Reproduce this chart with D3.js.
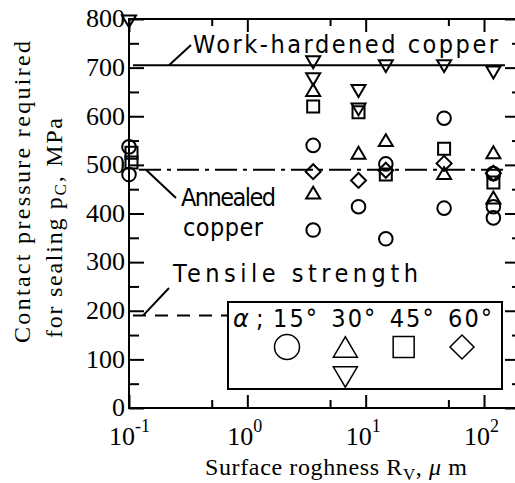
<!DOCTYPE html>
<html>
<head>
<meta charset="utf-8">
<script src="https://cdn.jsdelivr.net/npm/d3@7"></script>
<style>
  body { margin: 0; background: #fff; }
</style>
</head>
<body>
<div id="chart"></div>
<script>
/* DATA (roughness R_V in um, contact pressure in MPa) */
const circles15 = [[0.1, 537], [0.1, 480], [3.6, 540], [3.6, 366], [8.7, 414], [14.8, 502],
  [14.8, 348], [46, 596], [46, 411], [120, 482], [120, 414], [120, 391]];
const trianglesUp30 = [[3.6, 654], [3.6, 443], [8.7, 525], [14.8, 551], [46, 483], [120, 526], [120, 433]];
const trianglesDown30 = [[0.1, 795], [3.6, 711], [3.6, 676], [8.7, 652], [8.7, 614], [14.8, 703],
  [46, 703], [120, 690]];
const squares45 = [[0.105, 525], [0.105, 505], [3.6, 620], [8.7, 608], [14.8, 480], [46, 533], [120, 464]];
const diamonds60 = [[3.6, 486], [8.7, 468], [14.8, 489], [46, 503], [120, 483]];

const workHardened = 705;
const annealed = 490;
const tensile = 190;

const yMajor = [0, 100, 200, 300, 400, 500, 600, 700, 800];
const yMinor = [50, 150, 250, 350, 450, 550, 650, 750];
const xMajor = [0.1, 1, 10, 100];
const xMinor = [0.5, 5, 50];
const xExponents = ["-1", "0", "1", "2"];
const legendLabels = ["15°", "30°", "45°", "60°"];

/* LAYOUT */
const W = 515, H = 483;
const plotLeft = 129, plotRight = 517, plotTop = 19, plotBottom = 408;
const SERIF = "'Liberation Serif', 'Times New Roman', serif";
const NARROW = "'Liberation Sans Narrow', 'DejaVu Sans Condensed', sans-serif";

const svg = d3.select("#chart").append("svg")
  .attr("width", W).attr("height", H);

const x = d3.scaleLog().domain([0.1, 190]).range([plotLeft, plotRight]);
const y = d3.scaleLinear().domain([0, 800]).range([plotBottom, plotTop]);

/* SYMBOLS */
function tri(size, down) {
  const w = size, h = size * 0.85, s = down ? -1 : 1;
  return `M${-w / 2},${s * h / 2}L${w / 2},${s * h / 2}L0,${-s * h / 2}Z`;
}
function sq(a) { return `M${-a / 2},${-a / 2}h${a}v${a}h${-a}Z`; }
function dia(r) { return `M0,${-r}L${r},0L0,${r}L${-r},0Z`; }
function circ(r) { return `M${r},0A${r},${r} 0 1,1 ${-r},0A${r},${r} 0 1,1 ${r},0Z`; }

/* AXES FRAME */
svg.append("path")
  .attr("d", `M${plotRight},${plotTop}H${plotLeft}V${plotBottom}H${plotRight}`)
  .attr("fill", "none").attr("stroke", "#000").attr("stroke-width", 2);

function styleAxis(g) {
  g.select(".domain").remove();
  g.selectAll(".tick line").attr("stroke", "#000").attr("stroke-width", 2);
}

// left
svg.append("g").attr("transform", `translate(${plotLeft},0)`)
  .call(d3.axisLeft(y).tickValues(yMajor).tickSize(-15).tickPadding(4).tickFormat(d3.format("d")))
  .call(styleAxis)
  .attr("font-family", SERIF).attr("font-size", 26)
  .call(g => g.selectAll("text").style("font-family", SERIF).style("font-size", "26px")
    .attr("fill", "#000").attr("dy", "0.3em"));
svg.append("g").attr("transform", `translate(${plotLeft},0)`)
  .call(d3.axisLeft(y).tickValues(yMinor).tickSize(-10).tickFormat(""))
  .call(styleAxis);
// right
svg.append("g").attr("transform", `translate(${plotRight},0)`)
  .call(d3.axisRight(y).tickValues(yMajor).tickSize(-12).tickFormat(""))
  .call(styleAxis);
svg.append("g").attr("transform", `translate(${plotRight},0)`)
  .call(d3.axisRight(y).tickValues(yMinor).tickSize(-5).tickFormat(""))
  .call(styleAxis);
// bottom
svg.append("g").attr("transform", `translate(0,${plotBottom})`)
  .call(d3.axisBottom(x).tickValues(xMajor).tickSize(-13).tickFormat(""))
  .call(styleAxis);
svg.append("g").attr("transform", `translate(0,${plotBottom})`)
  .call(d3.axisBottom(x).tickValues(xMinor).tickSize(-8).tickFormat(""))
  .call(styleAxis);
// top
svg.append("g").attr("transform", `translate(0,${plotTop})`)
  .call(d3.axisTop(x).tickValues(xMajor).tickSize(-13).tickFormat(""))
  .call(styleAxis);
svg.append("g").attr("transform", `translate(0,${plotTop})`)
  .call(d3.axisTop(x).tickValues(xMinor).tickSize(-7).tickFormat(""))
  .call(styleAxis);

// x tick labels 10^n (base and exponent as separate texts)
const xl = svg.append("g").style("font-family", SERIF);
xl.selectAll("text.base").data(xMajor).join("text")
  .attr("class", "base")
  .attr("x", d => x(d) - 20).attr("y", 445)
  .attr("font-size", 26)
  .text("10");
xl.selectAll("text.exp").data(xMajor).join("text")
  .attr("class", "exp")
  .attr("x", d => x(d) + 6).attr("y", 432)
  .attr("font-size", 18)
  .text((d, i) => xExponents[i]);

/* AXIS TITLES */
svg.append("text").style("font-family", SERIF)
  .attr("transform", "translate(30,192) rotate(-90)")
  .attr("text-anchor", "middle").attr("font-size", 24)
  .attr("textLength", 302).attr("lengthAdjust", "spacing")
  .text("Contact pressure required");
const yl2 = svg.append("text").style("font-family", SERIF)
  .attr("transform", "translate(62,228) rotate(-90)")
  .attr("text-anchor", "middle").attr("font-size", 24)
  .attr("textLength", 220).attr("lengthAdjust", "spacing");
yl2.append("tspan").text("for sealing p");
yl2.append("tspan").attr("font-size", 17).attr("dy", 4).text("C");
yl2.append("tspan").attr("dy", -4).text(", MPa");

const xt = svg.append("text").style("font-family", SERIF)
  .attr("x", 205).attr("y", 475).attr("font-size", 24)
  .attr("textLength", 262).attr("lengthAdjust", "spacing");
xt.append("tspan").text("Surface roghness R");
xt.append("tspan").attr("font-size", 17).attr("dy", 5).text("V");
xt.append("tspan").attr("dy", -5).text(", ");
xt.append("tspan").attr("font-style", "italic").text("μ");
xt.append("tspan").text(" m");

/* REFERENCE LINES */
svg.append("line")
  .attr("x1", x(0.1) + 4).attr("x2", 505)
  .attr("y1", y(workHardened)).attr("y2", y(workHardened))
  .attr("stroke", "#000").attr("stroke-width", 2);
svg.append("line")
  .attr("x1", x(0.1) + 10).attr("x2", 507)
  .attr("y1", y(annealed)).attr("y2", y(annealed))
  .attr("stroke", "#000").attr("stroke-width", 2)
  .attr("stroke-dasharray", "22,6,4,6");
svg.append("line")
  .attr("x1", x(0.1) + 4).attr("x2", 228)
  .attr("y1", y(tensile)).attr("y2", y(tensile))
  .attr("stroke", "#000").attr("stroke-width", 2)
  .attr("stroke-dasharray", "13,9");

/* ANNOTATIONS */
const leaders = [
  [169, y(workHardened), 191, 45],
  [146, y(annealed), 176, 198],
  [143, y(tensile), 169, 288]
];
svg.append("g").selectAll("line").data(leaders).join("line")
  .attr("x1", d => d[0]).attr("y1", d => d[1])
  .attr("x2", d => d[2]).attr("y2", d => d[3])
  .attr("stroke", "#000").attr("stroke-width", 2);

function note(txt, x0, y0, len) {
  svg.append("text").style("font-family", NARROW)
    .attr("x", x0).attr("y", y0).attr("font-size", 25)
    .attr("textLength", len).attr("lengthAdjust", "spacing")
    .text(txt);
}
note("Work-hardened copper", 193, 53, 305);
note("Annealed", 181, 206, 95);
note("copper", 183, 236, 80);
note("Tensile strength", 173, 282, 245);

/* DATA MARKS */
const marks = svg.append("g").attr("fill", "none").attr("stroke", "#000").attr("stroke-width", 2);
function plot(data, d) {
  marks.append("g").selectAll("path").data(data).join("path")
    .attr("transform", p => `translate(${x(p[0])},${y(p[1])})`)
    .attr("d", d);
}
plot(circles15, circ(6.8));
plot(trianglesUp30, tri(14, false));
plot(trianglesDown30, tri(14, true));
plot(squares45, sq(12));
plot(diamonds60, dia(7.5));

/* LEGEND */
svg.append("rect")
  .attr("x", 228).attr("y", 302).attr("width", 274).attr("height", 87)
  .attr("fill", "#fff").attr("stroke", "#000").attr("stroke-width", 2);
svg.append("text").attr("x", 233).attr("y", 327)
  .style("font-family", "'DejaVu Sans', sans-serif")
  .attr("font-style", "italic").attr("font-size", 24).text("α");
svg.append("text").style("font-family", NARROW).attr("x", 256).attr("y", 327)
  .attr("font-size", 25).text(";");

const lx = d3.scalePoint().domain(legendLabels).range([287, 462]);
svg.append("g").selectAll("text").data(legendLabels).join("text")
  .style("font-family", NARROW)
  .attr("x", d => lx(d) - 14).attr("y", 327)
  .attr("font-size", 25)
  .attr("textLength", 44).attr("lengthAdjust", "spacing")
  .text(d => d);

const lg = svg.append("g").attr("fill", "none").attr("stroke", "#000").attr("stroke-width", 1.5);
const legendShapes = [circ(12.5), tri(24, false), sq(21), dia(12)];
lg.selectAll("path").data(legendLabels).join("path")
  .attr("transform", d => `translate(${lx(d)},347)`)
  .attr("d", (d, i) => legendShapes[i]);
lg.append("path")
  .attr("transform", `translate(${lx(legendLabels[1])},377)`)
  .attr("d", tri(24, true));
</script>
</body>
</html>
